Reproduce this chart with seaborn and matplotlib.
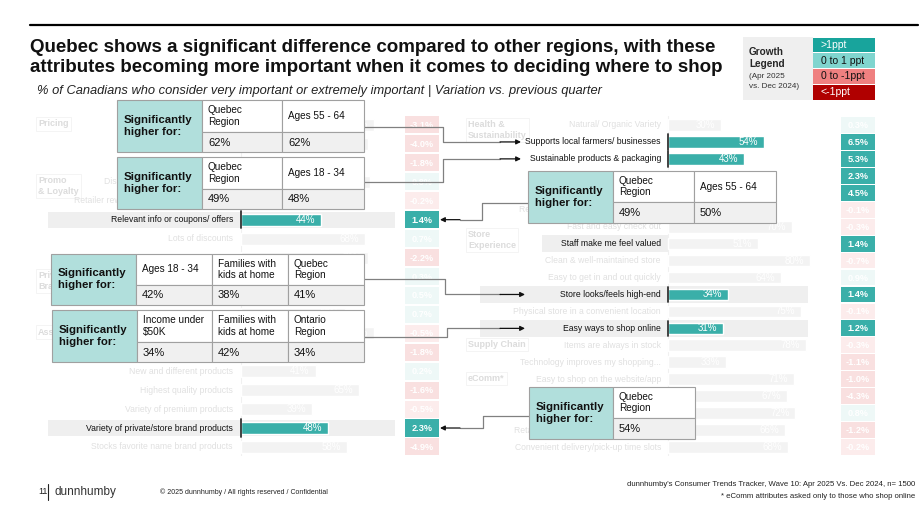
import numpy as np
import pandas as pd
import matplotlib
matplotlib.use("Agg")
import matplotlib.pyplot as plt
import seaborn as sns
from matplotlib.patches import Rectangle, FancyArrowPatch
from matplotlib.lines import Line2D

# ---------------- data ----------------
# rows whose label is fully hidden behind a callout in the reference are left blank
left_labels = [
    "", "", "",
    "Discounts on products I buy often", "Retailer rewards/loyalty program benefits",
    "Relevant info or coupons/ offers", "Lots of discounts", "",
    "", "", "", "", "",
    "New and different products", "Highest quality products", "Variety of premium products",
    "Variety of private/store brand products", "Stocks favorite name brand products",
]
left_values = [73, 70, 67, 71, 64, 44, 68, 70, 45, 50, 57, 73, 66, 41, 65, 39, 48, 58]
left_change = [-3.1, -4.0, -1.8, 0.8, -0.2, 1.4, 0.7, -2.2, 0.3, 0.5, 0.7, -0.5, -1.8,
               0.2, -1.6, -0.5, 2.3, -4.9]
left_focus = [5, 16]
left_groups = [("Pricing", 0), ("Promo\n& Loyalty", 3), ("Private\nBrand", 8), ("Assortment", 11)]

right_labels = [
    "Natural/ Organic Variety", "Supports local farmers/ businesses",
    "Sustainable products & packaging", "", "",
    "Retailer gives back to the community", "Fast and easy check out",
    "Staff make me feel valued", "Clean & well-maintained store",
    "Easy to get in and out quickly", "Store looks/feels high-end",
    "Physical store in a convenient location", "Easy ways to shop online",
    "Items are always in stock", "Technology improves my shopping...",
    "Easy to shop on the website/app", "", "",
    "Retailer offers flexible delivery options",
    "Convenient delivery/pick-up time slots",
]
right_values = [30, 54, 43, 46, 49, 38, 70, 51, 80, 64, 34, 75, 31, 78, 33, 71, 67, 72, 66, 68]
right_change = [0.3, 6.5, 5.3, 2.3, 4.5, -0.1, -0.3, 1.4, -0.7, 0.9, 1.4, -0.1, 1.2,
                -0.3, -1.1, -1.0, -4.3, 0.8, -1.2, -0.2]
right_bar_focus = [1, 2, 10, 12]
right_label_focus = [1, 2, 7, 10, 12]
right_box_focus = [1, 2, 3, 4, 7, 10, 12]
right_band_full = [10, 12]
right_band_label_only = [7]
right_groups = [("Health &\nSustainability", 0), ("Store\nExperience", 6.5),
                ("Supply Chain", 13), ("eComm*", 15)]

legend_labels = [">1ppt", "0 to 1 ppt", "0 to -1ppt", "<-1ppt"]
legend_colors = ["#18a49c", "#80d5cf", "#ef8080", "#b00000"]
legend_text_colors = ["white", "#111111", "#111111", "white"]

callouts = [
    dict(headers=["Quebec\nRegion", "Ages 55 - 64"], values=["62%", "62%"]),
    dict(headers=["Quebec\nRegion", "Ages 18 - 34"], values=["49%", "48%"]),
    dict(headers=["Ages 18 - 34", "Families with\nkids at home", "Quebec\nRegion"],
         values=["42%", "38%", "41%"]),
    dict(headers=["Income under\n$50K", "Families with\nkids at home", "Ontario\nRegion"],
         values=["34%", "42%", "34%"]),
    dict(headers=["Quebec\nRegion", "Ages 55 - 64"], values=["49%", "50%"]),
    dict(headers=["Quebec\nRegion"], values=["54%"]),
]

title_lines = ["Quebec shows a significant difference compared to other regions, with these",
               "attributes becoming more important when it comes to deciding where to shop"]
subtitle = "% of Canadians who consider very important or extremely important | Variation vs. previous quarter"

# ---------------- style ----------------
W, H = 920, 518
sns.set_theme(style="white")
plt.rcParams["font.family"] = ["Liberation Sans", "DejaVu Sans"]

TEAL = "#3aafa9"
FADE_TXT = "#e0e0e0"
FADE_BAR = "#f3f3f3"
BAND = "#efefef"


def fx(x):
    return x / W


def fy(y):
    return 1 - y / H


def box_color(c, focus):
    if focus:
        return TEAL
    if c >= 0:
        return "#eef8f7"
    if c > -1:
        return "#fcecec"
    return "#f9e0e0"


fig = plt.figure(figsize=(9.2, 5.18), dpi=100)
fig.patch.set_facecolor("white")

# panel geometry (pixels)
L = dict(x0=35, x1=460, zero=241, scale=1.82, top=115.5, step=18.94)
R = dict(x0=465, x1=880, zero=668, scale=1.77, top=116.5, step=16.95)


def make_axes(g, n):
    h = n * g["step"]
    ax = fig.add_axes([fx(g["x0"]), fy(g["top"] + h), (g["x1"] - g["x0"]) / W, h / H])
    return ax


def d(g, px):  # pixel x -> data x
    return (px - g["zero"]) / g["scale"]


def row_y(g, i):
    return g["top"] + (i + 0.5) * g["step"]


def draw_panel(ax, g, labels, values, change, bar_focus, label_focus, box_focus,
               band_full, band_label, groups, label_edge, band_x, box_x):
    n = len(labels)
    keys = [f"r{i}" for i in range(n)]
    df = pd.DataFrame({"key": keys, "value": values, "label": labels})
    pal = {k: (TEAL if i in bar_focus else FADE_BAR) for i, k in enumerate(keys)}
    bar_h = 0.63 if g is L else 0.69
    sns.barplot(data=df, x="value", y="key", hue="key", palette=pal, order=keys,
                width=bar_h, legend=False, saturation=1, ax=ax, zorder=2)
    ax.set_xlim(d(g, g["x0"]), d(g, g["x1"]))
    ax.set_ylim(n - 0.5, -0.5)
    ax.axis("off")
    bh = 0.84 if g is L else 1.0
    # bands
    for i in band_full:
        ax.add_patch(Rectangle((d(g, band_x[0]), i - bh / 2), d(g, band_x[1]) - d(g, band_x[0]), bh,
                               color=BAND, zorder=0, lw=0))
    for i in band_label:
        ax.add_patch(Rectangle((d(g, 542), i - bh / 2), 0 - d(g, 542), bh,
                               color=BAND, zorder=0, lw=0))
    # faint axis line
    ax.plot([0, 0], [-0.5, n - 0.5], color="#f0f0f0", lw=0.8, zorder=1)
    for i in bar_focus:
        ax.plot([0, 0], [i - 0.45, i + 0.45], color="#333333", lw=1.3, zorder=3)
    # labels and values
    for i, (lab, v, c) in enumerate(zip(labels, values, change)):
        foc = i in label_focus
        if lab:
            ax.text(d(g, label_edge), i, lab, ha="right", va="center", fontsize=6.2,
                    color="#111111" if foc else FADE_TXT, zorder=4)
        ax.text(v - 3.3, i, f"{v}%", ha="right", va="center", fontsize=7,
                color="white", zorder=4)
        bf = i in box_focus
        bx0, bx1 = d(g, box_x[0]), d(g, box_x[1])
        hh = 0.9 if g is L else 0.93
        ax.add_patch(Rectangle((bx0, i - hh / 2), bx1 - bx0, hh, color=box_color(c, bf),
                               zorder=2, lw=0, clip_on=False))
        ax.text((bx0 + bx1) / 2, i + 0.03, f"{c:.1f}%", ha="center", va="center",
                fontsize=6.6, fontweight="bold", color="white", zorder=4, clip_on=False)
    # group labels
    for name, r in groups:
        ax.text(d(g, g["x0"] + 3), r - 0.3, name, ha="left", va="top", fontsize=6.5,
                fontweight="bold", color="#dcdcdc", zorder=1, linespacing=1.3,
                bbox=dict(boxstyle="square,pad=0.25", fc="white", ec="#f2f2f2", lw=0.6))


axL = make_axes(L, len(left_labels))
draw_panel(axL, L, left_labels, left_values, left_change, left_focus, left_focus, left_focus,
           left_focus, [], left_groups, 233, (48, 395), (405, 439))

axR = make_axes(R, len(right_labels))
draw_panel(axR, R, right_labels, right_values, right_change, right_bar_focus, right_label_focus,
           right_box_focus, right_band_full, right_band_label_only, right_groups, 661,
           (480, 808), (841, 875))

# ---------------- title & header ----------------
fig.add_artist(Line2D([fx(30), fx(918)], [fy(25), fy(25)], color="black", lw=1.6,
                      transform=fig.transFigure))
fig.text(fx(30), fy(48), title_lines[0], fontsize=13.5, fontweight="bold", va="center",
         color="#111111")
fig.text(fx(30), fy(68), title_lines[1], fontsize=13.5, fontweight="bold", va="center",
         color="#111111")
fig.text(fx(37), fy(91), subtitle, fontsize=9.3, style="italic", va="center", color="#222222")

# legend
fig.add_artist(Rectangle((fx(743), fy(100)), (813 - 743) / W, 63 / H, color="#efefef",
                         transform=fig.transFigure, lw=0))
fig.text(fx(749), fy(52), "Growth", fontsize=7.2, fontweight="bold", va="center")
fig.text(fx(749), fy(64), "Legend", fontsize=7.2, fontweight="bold", va="center")
fig.text(fx(749), fy(76), "(Apr 2025", fontsize=5.9, va="center", color="#333333")
fig.text(fx(749), fy(87), "vs. Dec 2024)", fontsize=5.9, va="center", color="#333333")
lh = 63 / 4
for k, (lab, col, tc) in enumerate(zip(legend_labels, legend_colors, legend_text_colors)):
    y0 = 37 + k * lh
    fig.add_artist(Rectangle((fx(813), fy(y0 + lh - 0.5)), 62 / W, (lh - 1) / H, color=col,
                             transform=fig.transFigure, lw=0))
    fig.text(fx(821), fy(y0 + lh / 2), lab, fontsize=7.5, color=tc, va="center")

# ---------------- callout tables ----------------
table_boxes = [
    (117, 100, 364, 152, 202, [282], 132),
    (117, 157, 364, 209, 202, [282], 189),
    (51, 254, 364, 305, 136, [212, 288], 285),
    (52, 310, 364, 362, 137, [212, 288], 342),
    (528, 171, 776, 223, 613, [694], 202),
    (529, 387, 695, 439, 613, [], 418),
]


def rect_px(x0, y0, x1, y1, fc, ec="#a0a0a0", z=10):
    fig.add_artist(Rectangle((fx(x0), fy(y1)), (x1 - x0) / W, (y1 - y0) / H, fc=fc, ec=ec,
                             lw=0.8, transform=fig.transFigure, zorder=z))


for (x0, y0, x1, y1, tx, splits, ry), cd in zip(table_boxes, callouts):
    rect_px(x0, y0, tx, y1, "#b1dfdc")
    fig.text(fx(x0 + 7), fy((y0 + y1) / 2), "Significantly\nhigher for:", fontsize=8.2,
             fontweight="bold", va="center", ha="left", linespacing=1.25, zorder=11,
             color="#111111")
    edges = [tx] + splits + [x1]
    for j in range(len(edges) - 1):
        rect_px(edges[j], y0, edges[j + 1], ry, "white")
        rect_px(edges[j], ry, edges[j + 1], y1, "#f0f0f0")
        fig.text(fx(edges[j] + 6), fy((y0 + ry) / 2), cd["headers"][j], fontsize=7.2,
                 va="center", ha="left", linespacing=1.2, zorder=11, color="#111111")
        fig.text(fx(edges[j] + 6), fy((ry + y1) / 2 + 0.5), cd["values"][j], fontsize=8,
                 va="center", ha="left", zorder=11, color="#111111")

# ---------------- connectors ----------------
LC = "#808080"


def connector(points, arrow_to=None):
    xs = [fx(p[0]) for p in points]
    ys = [fy(p[1]) for p in points]
    fig.add_artist(Line2D(xs, ys, color=LC, lw=0.9, transform=fig.transFigure, zorder=9))
    if arrow_to is not None:
        p = points[-1]
        fig.add_artist(FancyArrowPatch((fx(p[0]), fy(p[1])), (fx(arrow_to[0]), fy(arrow_to[1])),
                                       arrowstyle="-|>", mutation_scale=7, color="#111111",
                                       lw=0.9, transform=fig.transFigure, zorder=9,
                                       shrinkA=0, shrinkB=0))


yr1 = row_y(R, 1)
yr2 = row_y(R, 2)
yr10 = row_y(R, 10)
yr12 = row_y(R, 12)
yl5 = row_y(L, 5)
yl16 = row_y(L, 16)

connector([(364, 127), (443, 127), (443, yr1), (500, yr1)], (521, yr1))
connector([(364, 182), (443, 182), (443, yr2), (500, yr2)], (521, yr2))
connector([(364, 279), (445, 279), (445, yr10), (500, yr10)], (525, yr10))
connector([(364, 337), (447, 337), (447, yr12), (500, yr12)], (525, yr12))
connector([(528, 203), (482, 203), (482, yl5), (460, yl5)], (440, yl5))
connector([(529, 416), (483, 416), (483, yl16), (460, yl16)], (440, yl16))

# ---------------- footer ----------------
fig.text(fx(38), fy(492), "11", fontsize=6.5, va="center", color="#222222")
fig.add_artist(Line2D([fx(48.5), fx(48.5)], [fy(484), fy(500)], color="#222222", lw=0.8,
                      transform=fig.transFigure))
fig.text(fx(55), fy(492), "dunnhumby", fontsize=8.5, va="center", color="#333333")
fig.text(fx(160), fy(492), "© 2025 dunnhumby / All rights reserved / Confidential", fontsize=5,
         va="center", color="#222222")
fig.text(fx(915), fy(485), "dunnhumby's Consumer Trends Tracker, Wave 10: Apr 2025 Vs. Dec 2024, n= 1500",
         fontsize=5.6, va="center", ha="right", color="#222222")
fig.text(fx(915), fy(496), "* eComm attributes asked only to those who shop online",
         fontsize=5.6, va="center", ha="right", color="#222222")

fig.savefig("out.png", dpi=100)
